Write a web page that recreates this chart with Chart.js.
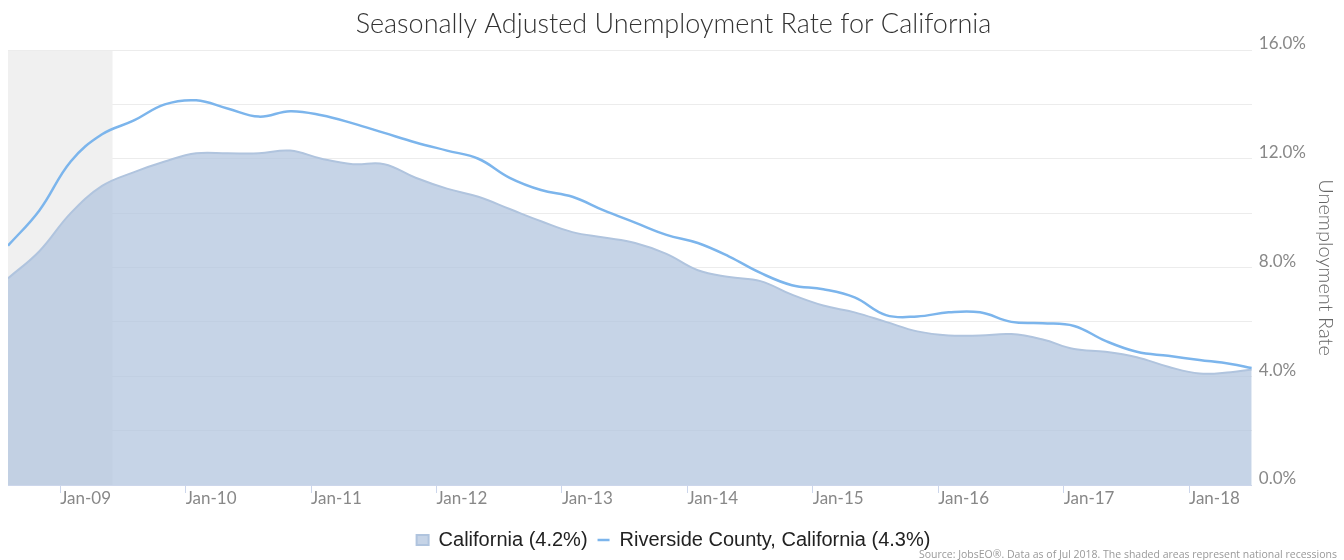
<!DOCTYPE html>
<html>
<head>
<meta charset="utf-8">
<script src="https://cdn.jsdelivr.net/npm/chart.js@4.4.0/dist/chart.umd.min.js"></script>
<style>
  body { margin: 0; background: #fff; }
  #wrap { width: 1344px; height: 560px; position: relative; }
</style>
</head>
<body>
<div id="wrap"><canvas id="myChart"></canvas></div>
<script>
// quarterly readings, Aug 2008 - Jul 2018
const dates = ["2008-08","2008-11","2009-02","2009-05","2009-08","2009-11","2010-02","2010-05","2010-08","2010-11",
  "2011-02","2011-05","2011-08","2011-11","2012-02","2012-05","2012-08","2012-11","2013-02","2013-05",
  "2013-08","2013-11","2014-02","2014-05","2014-08","2014-11","2015-02","2015-05","2015-08","2015-11",
  "2016-02","2016-05","2016-08","2016-11","2017-02","2017-05","2017-08","2017-11","2018-02","2018-05","2018-07"];

const california = [7.6, 8.6, 10.0, 11.0, 11.5, 11.9, 12.2, 12.2, 12.2, 12.3,
  12.0, 11.8, 11.8, 11.3, 10.9, 10.6, 10.15, 9.7, 9.3, 9.1,
  8.9, 8.5, 7.9, 7.65, 7.5, 7.0, 6.6, 6.35, 6.0, 5.65,
  5.5, 5.5, 5.55, 5.35, 5.0, 4.9, 4.7, 4.35, 4.1, 4.15, 4.25];

const riverside = [8.8, 10.1, 11.9, 12.9, 13.4, 14.0, 14.15, 13.85, 13.55, 13.75,
  13.6, 13.3, 12.95, 12.6, 12.3, 12.0, 11.3, 10.85, 10.6, 10.1,
  9.65, 9.2, 8.9, 8.4, 7.8, 7.35, 7.2, 6.9, 6.25, 6.2,
  6.35, 6.35, 6.0, 5.95, 5.85, 5.3, 4.9, 4.75, 4.6, 4.45, 4.3];

const seriesNames = ["California (4.2%)", "Riverside County, California (4.3%)"];
const yTicks = [0, 4, 8, 12, 16];
const recession = ["2008-08", "2009-06"];

// months since Jan 2008
function monthNum(s) {
  let p = s.split("-");
  return (parseInt(p[0]) - 2008) * 12 + parseInt(p[1]) - 1;
}
function toPoints(vals) {
  let out = [];
  for (let i = 0; i < dates.length; i++) {
    out.push({ x: monthNum(dates[i]), y: vals[i] });
  }
  return out;
}

const recessionBand = {
  id: "recessionBand",
  beforeDatasetsDraw(chart) {
    const { ctx, chartArea, scales } = chart;
    let x1 = scales.x.getPixelForValue(monthNum(recession[0]));
    let x2 = scales.x.getPixelForValue(monthNum(recession[1]));
    ctx.save();
    ctx.fillStyle = "#f0f0f0";
    ctx.fillRect(x1, chartArea.top + 1, x2 - x1, chartArea.bottom - chartArea.top - 1);
    ctx.restore();
  }
};

const sourceNote = {
  id: "sourceNote",
  afterDraw(chart) {
    const ctx = chart.ctx;
    ctx.save();
    ctx.font = "10.5px 'Open Sans', sans-serif";
    ctx.fillStyle = "#999";
    ctx.textBaseline = "middle";
    ctx.textAlign = "left";
    ctx.fillText("Source: JobsEO\u00ae. Data as of Jul 2018. The shaded areas represent national recessions", 919, 555);
    ctx.restore();
  }
};

const ctx = document.getElementById("myChart");

let ch = new Chart(ctx, {
  type: "line",
  data: {
    datasets: [
      {
        label: seriesNames[0],
        data: toPoints(california),
        borderColor: "rgb(176,196,222)",
        backgroundColor: "rgba(176,196,222,0.72)",
        borderWidth: 2,
        fill: "origin",
        pointRadius: 0,
        pointStyle: "rect",
        tension: 0.4,
        order: 2,
      },
      {
        label: seriesNames[1],
        data: toPoints(riverside),
        borderColor: "#7cb5ec",
        backgroundColor: "#7cb5ec",
        borderWidth: 2.5,
        fill: false,
        pointRadius: 0,
        pointStyle: "line",
        tension: 0.4,
        order: 1,
      },
    ],
  },
  plugins: [recessionBand, sourceNote],
  options: {
    responsive: true,
    maintainAspectRatio: false,
    animation: false,
    layout: { padding: { left: 8, right: 5, bottom: 0, top: 0 } },
    plugins: {
      title: {
        display: true,
        text: "Seasonally Adjusted Unemployment Rate for California",
        color: "#333",
        font: { family: "Lato", size: 27, weight: "300" },
        padding: { top: 8, bottom: 9.6 },
      },
      legend: {
        position: "bottom",
        labels: {
          usePointStyle: true,
          color: "#222",
          font: { family: "'Liberation Sans', Arial, sans-serif", size: 20 },
          boxHeight: 10,
          pointStyleWidth: 12,
          padding: 10,
          sort: (a, b) => a.datasetIndex - b.datasetIndex,
        },
      },
      tooltip: { enabled: false },
    },
    scales: {
      x: {
        type: "linear",
        min: monthNum(dates[0]),
        max: monthNum(dates[dates.length - 1]),
        border: { display: true, color: "#ccd6eb" },
        grid: {
          drawOnChartArea: false,
          drawTicks: true,
          tickLength: 8,
          color: "#ccd6eb",
        },
        ticks: {
          stepSize: 12,
          includeBounds: false,
          autoSkip: false,
          maxRotation: 0,
          align: "start",
          padding: -5,
          color: "#888",
          font: { family: "Lato", size: 17 },
          callback: (v) => {
            if (v % 12 !== 0) return null;
            let yr = 2008 + v / 12 - 2000;
            return "Jan-" + (yr < 10 ? "0" + yr : yr);
          },
        },
        afterFit: (scale) => {
          scale.height = 35;
        },
      },
      y: {
        position: "right",
        min: 0,
        max: 16,
        border: { display: false },
        grid: { color: "#ececec", drawTicks: false },
        ticks: {
          stepSize: 2,
          padding: 7,
          labelOffset: -6,
          color: "#888",
          font: { family: "Lato", size: 17 },
          callback: (v) => (yTicks.includes(v) ? v.toFixed(1) + "%" : ""),
        },
        title: {
          display: true,
          text: "Unemployment Rate",
          color: "#666",
          font: { family: "Lato", size: 20, weight: "300" },
          padding: { top: 2, bottom: 0 },
        },
      },
    },
  },
});
</script>
</body>
</html>
